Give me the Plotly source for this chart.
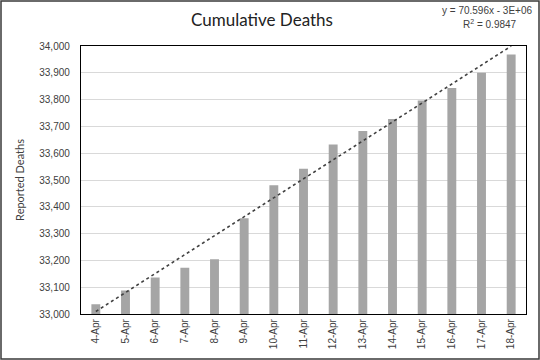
import numpy as np
import plotly.graph_objects as go

dates = ["4-Apr", "5-Apr", "6-Apr", "7-Apr", "8-Apr", "9-Apr", "10-Apr", "11-Apr",
         "12-Apr", "13-Apr", "14-Apr", "15-Apr", "16-Apr", "17-Apr", "18-Apr"]
deaths = [33036, 33088, 33136, 33173, 33204, 33357, 33480, 33542,
          33632, 33683, 33728, 33797, 33843, 33900, 33968]
y_ticks = list(range(33000, 34001, 100))

W, H = 540, 360
L, R, T, B = 81, 14, 46, 46

# linear trendline from least squares fit
xi = np.arange(len(deaths))
slope, intercept = np.polyfit(xi, deaths, 1)
trend = slope * xi + intercept

fig = go.Figure()
fig.add_trace(go.Bar(x=dates, y=deaths, marker=dict(color="#a5a5a5", line=dict(width=0)),
                     width=0.3, showlegend=False))
fig.add_trace(go.Scatter(x=dates, y=trend, mode="lines",
                         line=dict(color="#404040", width=1.6, dash="dot"), showlegend=False))

pw = W - L - R
ph = H - T - B
fig.add_shape(type="rect", xref="paper", yref="paper",
              x0=(1 - L) / pw, x1=(W - 1 - L) / pw,
              y0=-(B - 1) / ph, y1=1 + (T - 1) / ph,
              line=dict(color="#3a3a3a", width=1.5), layer="above")

fig.add_annotation(text="y = 70.596x - 3E+06", xref="paper", yref="paper",
                   x=(535 - L) / pw, y=1 + (T - 3) / ph, xanchor="right", yanchor="top",
                   showarrow=False,
                   font=dict(family="Liberation Sans, Arial", size=10, color="#404040"))
fig.add_annotation(text="R<sup>2</sup> = 0.9847", xref="paper", yref="paper",
                   x=(490 - L) / pw, y=1 + (T - 16) / ph, xanchor="center", yanchor="top",
                   showarrow=False,
                   font=dict(family="Liberation Sans, Arial", size=10, color="#404040"))

fig.update_layout(
    width=W, height=H,
    margin=dict(l=L, r=R, t=T, b=B),
    paper_bgcolor="white", plot_bgcolor="white",
    title=dict(text="Cumulative Deaths", x=262 / W, xanchor="center", y=1 - 20 / H, yanchor="middle",
               font=dict(family="Lato, Noto Sans", size=17, color="#222222")),
    bargap=0.7,
    xaxis=dict(type="category", tickangle=-90, showline=True, linecolor="black", linewidth=1.3,
               mirror=True, ticks="", showgrid=False,
               tickfont=dict(family="Liberation Sans, Arial", size=10, color="#404040")),
    yaxis=dict(range=[33000, 34000], tickvals=y_ticks, tickformat=",d",
               showline=True, linecolor="black", linewidth=1.3, mirror=True,
               gridcolor="#d9d9d9", gridwidth=1, ticks="", ticklabelstandoff=8,
               title=dict(text="Reported Deaths", standoff=12,
                          font=dict(family="Lato, Noto Sans", size=11, color="#404040")),
               tickfont=dict(family="Liberation Sans, Arial", size=10, color="#404040")),
)

fig.write_html("out.html", config={"displayModeBar": False},
               post_script="document.body.style.margin='0';document.body.style.padding='0';")
